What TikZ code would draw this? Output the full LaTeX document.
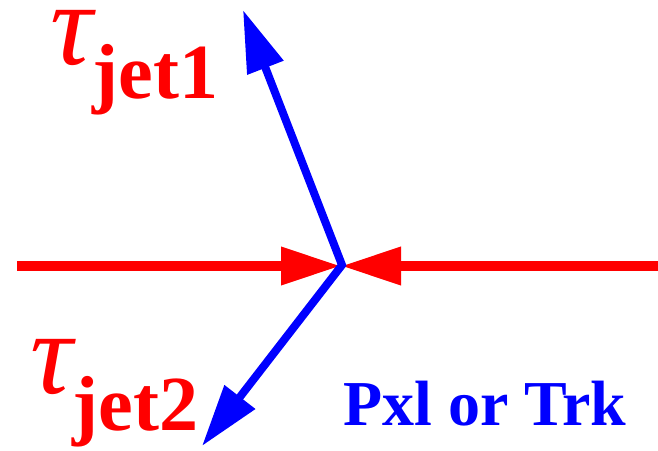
\documentclass[tikz,border=0pt]{standalone}
\usepackage{fontspec}
\setmainfont{Liberation Serif}
\usetikzlibrary{arrows.meta}
\begin{document}
\begin{tikzpicture}[x=1pt,y=-1pt,
  redline/.style={draw={rgb,255:red,255;green,0;blue,0}, line width=10pt,
    -{Triangle[length=60pt,width=36pt]}},
  blueline/.style={draw={rgb,255:red,0;green,0;blue,255}, line width=8pt, line join=miter,
    {Triangle[length=62pt,width=37pt]}-{Triangle[length=62pt,width=37pt]}},
  lbl/.style={inner sep=0pt, anchor=base west, text={rgb,255:red,255;green,0;blue,0}},
  plbl/.style={inner sep=0pt, anchor=base west, text={rgb,255:red,0;green,0;blue,255},
    font=\fontsize{64}{64}\selectfont\bfseries}]
\useasboundingbox (0,0) rectangle (658,450);
\coordinate (c) at (341,266);
\coordinate (l) at (17,266);
\coordinate (r) at (658,266);
\coordinate (v) at (342,265);
\coordinate (t1) at (243,10);
\coordinate (t2) at (202,446);
\draw[redline] (l) -- (c);
\draw[redline] (r) -- (c);
\draw[blueline] (t1) -- (v) -- (t2);
\node[lbl] (tau1) at (50,64) {\smash{\fontsize{118}{118}\selectfont\itshape τ}\raisebox{-34pt}{\fontsize{78}{78}\selectfont\bfseries jet1}};
\node[lbl] (tau2) at (30,393) {\smash{\fontsize{118}{118}\selectfont\itshape τ}\raisebox{-37pt}{\fontsize{78}{78}\selectfont\bfseries jet2}};
\node[plbl] (pxl) at (343,425) {Pxl or Trk};
\end{tikzpicture}
\end{document}
